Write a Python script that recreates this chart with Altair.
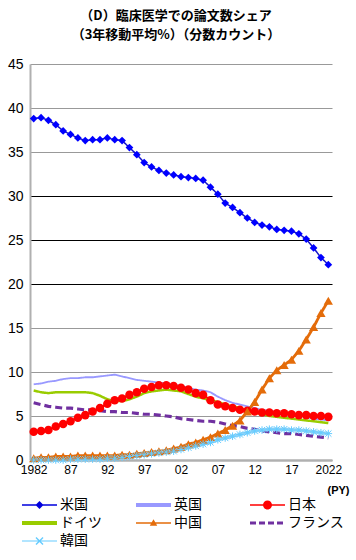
import altair as alt
import pandas as pd

years = list(range(1982, 2023))
countries = ["米国", "英国", "日本", "ドイツ", "中国", "フランス", "韓国"]

us = [38.8, 38.9, 38.6, 38.1, 37.4, 37.0, 36.6, 36.3, 36.4, 36.4,
      36.6, 36.4, 36.3, 35.5, 34.7, 33.8, 33.3, 32.9, 32.6, 32.4,
      32.2, 32.1, 32.0, 31.8, 31.0, 30.2, 29.2, 28.7, 28.1, 27.5,
      27.0, 26.7, 26.5, 26.2, 26.1, 26.0, 25.7, 25.1, 24.1, 23.0,
      22.2]
uk = [8.6, 8.7, 8.9, 9.0, 9.2, 9.3, 9.3, 9.4, 9.4, 9.5,
      9.6, 9.7, 9.5, 9.3, 9.1, 9.0, 8.9, 8.8, 8.7, 8.6,
      8.4, 8.2, 8.0, 7.9, 7.7, 7.2, 6.8, 6.5, 6.3, 6.1,
      5.9, 5.7, 5.6, 5.4, 5.3, 5.1, 5.0, 4.9, 4.7, 4.6,
      4.5]
japan = [3.2, 3.3, 3.4, 3.8, 4.1, 4.4, 4.8, 5.1, 5.5, 5.9,
         6.4, 6.8, 7.0, 7.4, 7.7, 8.1, 8.3, 8.5, 8.5, 8.4,
         8.2, 8.0, 7.6, 7.4, 6.8, 6.3, 6.1, 5.9, 5.7, 5.6,
         5.5, 5.4, 5.4, 5.3, 5.3, 5.2, 5.1, 5.1, 5.0, 5.0,
         4.9]
germany = [7.9, 7.7, 7.6, 7.7, 7.7, 7.7, 7.7, 7.7, 7.6, 7.3,
           6.9, 6.7, 6.7, 6.9, 7.2, 7.6, 7.8, 7.9, 8.0, 7.9,
           7.8, 7.5, 7.2, 7.0, 6.8, 6.6, 6.3, 6.1, 5.9, 5.6,
           5.4, 5.2, 5.0, 4.9, 4.8, 4.7, 4.6, 4.5, 4.4, 4.3,
           4.2]
china = [0.2, 0.3, 0.3, 0.4, 0.4, 0.4, 0.5, 0.5, 0.5, 0.5,
         0.5, 0.5, 0.6, 0.6, 0.7, 0.8, 0.9, 1.0, 1.1, 1.3,
         1.5, 1.8, 2.0, 2.3, 2.6, 3.0, 3.4, 3.9, 4.5, 5.5,
         6.6, 8.0, 9.3, 10.2, 10.8, 11.4, 12.4, 13.7, 15.1, 16.7,
         18.1]
france = [6.5, 6.3, 6.1, 6.0, 5.9, 5.9, 5.8, 5.7, 5.7, 5.6,
          5.5, 5.5, 5.4, 5.4, 5.3, 5.2, 5.2, 5.1, 5.0, 4.9,
          4.7, 4.6, 4.5, 4.4, 4.4, 4.3, 4.1, 3.9, 3.8, 3.6,
          3.5, 3.3, 3.2, 3.1, 3.0, 3.0, 2.9, 2.8, 2.7, 2.6,
          2.5]
korea = [0.0, 0.0, 0.0, 0.0, 0.0, 0.1, 0.1, 0.1, 0.1, 0.1,
         0.2, 0.2, 0.3, 0.4, 0.5, 0.6, 0.7, 0.8, 0.9, 1.0,
         1.2, 1.4, 1.6, 1.8, 2.0, 2.3, 2.5, 2.7, 2.9, 3.1,
         3.3, 3.4, 3.5, 3.5, 3.5, 3.4, 3.4, 3.3, 3.2, 3.1,
         3.0]

tick_years = [1982, 1987, 1992, 1997, 2002, 2007, 2012, 2017, 2022]
title_lines = ["（D）臨床医学での論文数シェア", "（3年移動平均%）（分数カウント）"]

series = [us, uk, japan, germany, china, france, korea]
rows = []
for name, vals in zip(countries, series):
    for yr, v in zip(years, vals):
        rows.append({"year": yr, "share": v, "country": name})
df = pd.DataFrame(rows)

line_colors = ["#1515C8", "#9999FF", "#FF0000", "#99CC00", "#E46C0A", "#7030A0", "#8FD3F8"]
line_widths = [1.5, 3.5, 1.5, 3.5, 1.5, 2.6, 1.2]
line_dash = [[1, 0], [1, 0], [1, 0], [1, 0], [1, 0], [7, 4], [1, 0]]

marked = ["米国", "日本", "中国"]
marked_colors = ["#0000FF", "#FF0000", "#E46C0A"]
marked_shapes = ["diamond", "circle", "triangle-up"]
marked_sizes = [60, 85, 45]

rect_thin = "M-1,-0.15L6,-0.15L6,0.15L-1,0.15Z"
rect_thick = "M-1,-0.38L6,-0.38L6,0.38L-1,0.38Z"
legend_paths = [
    rect_thin + " M2.5,-0.8L3.3,0L2.5,0.8L1.7,0Z",
    rect_thick,
    rect_thin + " M1.6,0A0.9,0.9 0 1,1 3.4,0A0.9,0.9 0 1,1 1.6,0Z",
    rect_thick,
    rect_thin + " M2.5,-0.75L3.25,0.55L1.75,0.55Z",
    "M-1,-0.3L0.2,-0.3L0.2,0.3L-1,0.3Z M0.8,-0.3L2,-0.3L2,0.3L0.8,0.3Z "
    "M2.6,-0.3L3.8,-0.3L3.8,0.3L2.6,0.3Z M4.4,-0.3L5.6,-0.3L5.6,0.3L4.4,0.3Z",
    "M-1,-0.12L6,-0.12L6,0.12L-1,0.12Z M1.7,-0.6L1.9,-0.8L3.3,0.6L3.1,0.8Z M3.1,-0.8L3.3,-0.6L1.9,0.8L1.7,0.6Z",
]
legend_colors = ["#0000DD", "#9999FF", "#FF0000", "#99CC00", "#E46C0A", "#7030A0", "#66CCFF"]

x_enc = alt.X(
    "year:Q",
    scale=alt.Scale(domain=[1981.5, 2022.5], nice=False, zero=False),
    axis=alt.Axis(
        values=tick_years,
        labelExpr="(datum.value == 1982 || datum.value == 2022) ? '' + datum.value : substring('' + datum.value, 2, 4)",
        grid=False, ticks=False, domainColor="#b0b0b0", domainWidth=2.5,
        labelFont="Liberation Sans", labelFontSize=12, labelColor="black", labelPadding=4,
        labelFlush=False, labelOverlap=False,
        title="(PY)", titleFont="Liberation Sans", titleFontSize=11, titleFontWeight="bold",
        titleColor="black", titleX=308, titleY=30, titleAlign="center", titleBaseline="middle",
        titleAnchor="start",
    ),
)
y_enc = alt.Y(
    "share:Q",
    scale=alt.Scale(domain=[0, 45], nice=False),
    axis=alt.Axis(
        values=list(range(0, 50, 5)), grid=True,
        gridColor=alt.condition("datum.value >= 20 && datum.value <= 30", alt.value("#000000"), alt.value("#999999")),
        gridWidth=1.2, ticks=False, domainColor="#b0b0b0", domainWidth=2,
        labelFont="Liberation Sans", labelFontSize=14, labelColor="black", labelPadding=7,
        title=None,
    ),
)

base = alt.Chart(df)

lines = base.mark_line(opacity=1).encode(
    x=x_enc, y=y_enc,
    color=alt.Color("country:N", scale=alt.Scale(domain=countries, range=line_colors), legend=None),
    strokeWidth=alt.StrokeWidth("country:N", scale=alt.Scale(domain=countries, range=line_widths), legend=None),
    strokeDash=alt.StrokeDash("country:N", scale=alt.Scale(domain=countries, range=line_dash), legend=None),
    detail="country:N",
)

points = base.transform_filter(
    alt.FieldOneOfPredicate(field="country", oneOf=marked)
).mark_point(filled=True, opacity=1).encode(
    x=x_enc, y=y_enc,
    color=alt.Color("country:N", scale=alt.Scale(domain=marked, range=marked_colors), legend=None),
    shape=alt.Shape("country:N", scale=alt.Scale(domain=marked, range=marked_shapes), legend=None),
    size=alt.Size("country:N", scale=alt.Scale(domain=marked, range=marked_sizes), legend=None),
)

korea_pts = base.transform_filter(
    alt.datum.country == "韓国"
).mark_point(
    shape="M-1,-1L1,1M-1,1L1,-1M0,-1.2L0,1.2M-1.2,0L1.2,0",
    filled=False, color="#66CCFF", strokeWidth=1, size=40, opacity=1,
).encode(x=x_enc, y=y_enc)

leg = alt.Legend(
    orient="none", legendX=-10, legendY=434, columns=3, gridAlign="all",
    direction="horizontal",
    columnPadding=18, rowPadding=4, symbolSize=100, symbolStrokeWidth=0,
    symbolOpacity=1, labelOffset=26, labelFont="Noto Sans CJK JP", labelFontSize=14,
    labelColor="black", title=None, padding=0, labelLimit=0,
)
legend_layer = base.transform_calculate(lc="datum.country").transform_filter("false").mark_point(
    filled=True, opacity=1
).encode(
    x=x_enc, y=y_enc,
    color=alt.Color("lc:N", scale=alt.Scale(domain=countries, range=legend_colors), legend=leg, sort=countries),
    shape=alt.Shape("lc:N", scale=alt.Scale(domain=countries, range=legend_paths), legend=leg, sort=countries),
)

chart = alt.layer(lines, points, korea_pts, legend_layer).resolve_scale(
    color="independent", shape="independent", size="independent",
    strokeDash="independent", strokeWidth="independent",
).resolve_legend(
    color="independent", shape="independent",
).properties(
    width=302, height=396,
    padding={"left": 30, "top": 64, "right": 24, "bottom": 100},
    autosize=alt.AutoSizeParams(type="none"),
    background="white",
    title=alt.TitleParams(
        title_lines, font="Noto Sans CJK JP", fontSize=13, fontWeight="bold",
        anchor="middle", offset=15, dx=-5, lineHeight=19, color="black",
    ),
).configure_view(stroke=None)

chart.save("out.html", embed_options={"renderer": "svg", "actions": False})
